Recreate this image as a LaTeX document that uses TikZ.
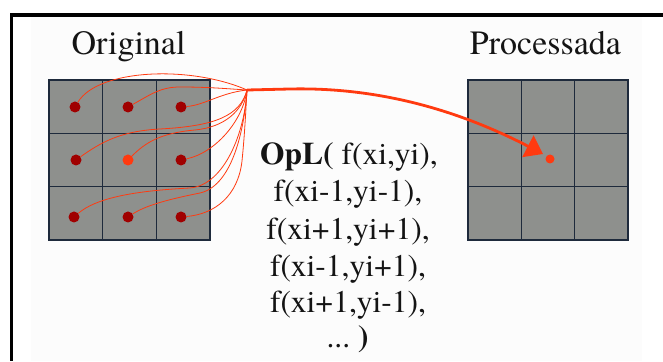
\documentclass[tikz,border=0pt]{standalone}
\usepackage{fontspec}
\setmainfont{texgyretermes}[Extension=.otf,UprightFont=*-regular,BoldFont=*-bold,ItalicFont=*-italic,BoldItalicFont=*-bolditalic]
\usetikzlibrary{arrows.meta}
\definecolor{cellgray}{HTML}{8E908D}
\definecolor{gridline}{HTML}{1E2A3C}
\definecolor{wire}{HTML}{FF3A10}
\definecolor{pix}{HTML}{A00000}
\definecolor{paper}{HTML}{FCFCFC}
\definecolor{ink}{HTML}{141414}
\begin{document}
\begin{tikzpicture}[x=1pt,y=1pt,
  dot/.style={circle,fill=pix,inner sep=0pt,minimum size=11pt},
  lbl/.style={anchor=base,inner sep=0pt,text=ink,font=\fontsize{34}{40}\selectfont},
  formula/.style={anchor=base,inner sep=0pt,text=ink,font=\fontsize{31.5}{37}\selectfont},
  link/.style={wire,line width=0.8pt},
  gridrule/.style={gridline,line width=1.5pt}]
\useasboundingbox (0,0) rectangle (663,361);
% page and frame
\fill[paper] (31,0) rectangle (642,344);
\draw[line width=3.5pt] (10,346) -- (663,346);
\draw[line width=3pt] (11.3,347.7) -- (11.3,0);

% input image: 3x3 pixel grid
\fill[cellgray] (49,121) rectangle (210,281);
\foreach \x in {102.7,156.3} \draw[gridrule] (\x,121) -- (\x,281);
\foreach \y in {174.3,227.7} \draw[gridrule] (49,\y) -- (210,\y);
\draw[gridrule,line width=1.2pt] (49,121) rectangle (210,281);

% output image: 3x3 pixel grid
\fill[cellgray] (468,121) rectangle (628,281);
\foreach \x in {521.3,574.7} \draw[gridrule] (\x,121) -- (\x,281);
\foreach \y in {174.3,227.7} \draw[gridrule] (468,\y) -- (628,\y);
\draw[gridrule,line width=1.2pt] (468,121) rectangle (628,281);

% titles
\node[lbl] (orig) at (128.5,306) {Original};
\node[lbl] (proc) at (545.5,306) {Processada};

% neighbourhood pixels
\node[dot] (d11) at (75,254) {};
\node[dot] (d12) at (128,254) {};
\node[dot] (d13) at (181,254) {};
\node[dot] (d21) at (76,201) {};
\node[dot,fill=wire] (d22) at (128,201) {};
\node[dot] (d23) at (181,201) {};
\node[dot] (d31) at (74,144) {};
\node[dot] (d32) at (128,144) {};
\node[dot] (d33) at (181,144) {};
\coordinate (hub) at (247,271);

% each neighbour feeds the operator
\draw[link] (d11) .. controls (98,292) and (190,296) .. (hub);
\draw[link] (d12) .. controls (150,266) and (160,274) .. (180,274) .. controls (210,274) and (230,272) .. (hub);
\draw[link] (d13) .. controls (205,256) and (220,268) .. (hub);
\draw[link] (d21) .. controls (100,218) and (120,230) .. (160,232) .. controls (215,235) and (240,245) .. (hub);
\draw[link] (d22) .. controls (145,218) and (160,228) .. (195,231) .. controls (225,234) and (242,250) .. (hub);
\draw[link] (d23) .. controls (215,208) and (243,240) .. (hub);
\draw[link] (d31) .. controls (95,162) and (130,170) .. (190,173) .. controls (225,176) and (245,230) .. (hub);
\draw[link] (d32) .. controls (145,155) and (165,161) .. (200,168) .. controls (235,176) and (245,240) .. (hub);
\draw[link] (d33) .. controls (215,147) and (238,165) .. (242,200) .. controls (245,230) and (246,255) .. (hub);

% result pixel and the arrow into it
\node[dot,fill=wire,minimum size=9pt] (res) at (550,202) {};
\coordinate (tip) at (543,207);
\draw[wire,line width=2.8pt,-{Triangle[length=17pt,width=24pt]}]
  (hub) -- (290,272) .. controls (380,274) and (460,250) .. (tip);

% the local operator
\node[formula] (l1) at (349,196) {\textbf{OpL(} f(xi,yi),};
\node[formula] (l2) at (348,159) {f(xi-1,yi-1),};
\node[formula] (l3) at (348,121) {f(xi+1,yi+1),};
\node[formula] (l4) at (348,84) {f(xi-1,yi+1),};
\node[formula] (l5) at (348,48) {f(xi+1,yi-1),};
\node[formula] (l6) at (347.5,13) {...\ \textbf{)}};
\end{tikzpicture}
\end{document}
